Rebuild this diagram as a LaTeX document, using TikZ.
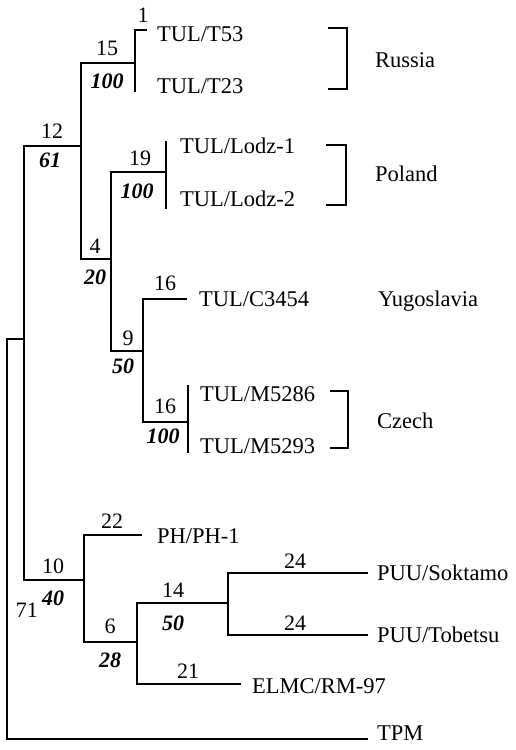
\documentclass[tikz,border=0pt]{standalone}
\usepackage{fontspec}
\setmainfont{Liberation Serif}
\begin{document}
\begin{tikzpicture}[x=1pt,y=-1pt,
  br/.style={line width=1.4pt,line cap=rect},
  lab/.style={anchor=base west,inner sep=0pt,font=\fontsize{22.5}{26}\selectfont},
  num/.style={anchor=base,inner sep=0pt,font=\fontsize{22}{26}\selectfont},
  boot/.style={anchor=base,inner sep=0pt,font=\fontsize{22}{26}\selectfont\bfseries\itshape}]
\useasboundingbox (0,0) rectangle (515,750);
% junction coordinates
\coordinate (R) at (7,339);
\coordinate (A) at (24,339); \coordinate (A1) at (24,146); \coordinate (A2) at (24,580);
\coordinate (B) at (81,146); \coordinate (B1) at (81,63); \coordinate (B2) at (81,259);
\coordinate (Ru) at (135,63); \coordinate (Ru1) at (135,30); \coordinate (Ru2) at (135,91);
\coordinate (t53e) at (146,30);
\coordinate (C) at (111,259); \coordinate (C1) at (111,172); \coordinate (C2) at (111,351);
\coordinate (Po) at (166,172); \coordinate (Po1) at (166,142); \coordinate (Po2) at (166,208);
\coordinate (D) at (143,351); \coordinate (D1) at (143,299); \coordinate (D2) at (143,422);
\coordinate (yuE) at (186,299);
\coordinate (Cz) at (188,422); \coordinate (Cz1) at (188,386); \coordinate (Cz2) at (188,452);
\coordinate (E) at (84,580); \coordinate (E1) at (84,535); \coordinate (E2) at (84,642);
\coordinate (phE) at (141,535);
\coordinate (F) at (137,642); \coordinate (F1) at (137,603); \coordinate (F2) at (137,684);
\coordinate (G) at (228,603); \coordinate (G1) at (228,573); \coordinate (G2) at (228,635);
\coordinate (sokE) at (367,573); \coordinate (tobE) at (367,635);
\coordinate (elmE) at (240,684); \coordinate (tpmE) at (367,739);
% branches
\draw[br] (R) -- (A); \draw[br] (A1) -- (A2);
\draw[br] (R) |- (tpmE);
\draw[br] (A1) -- (B); \draw[br] (B1) -- (B2);
\draw[br] (B1) -- (Ru); \draw[br] (Ru1) -- (Ru2); \draw[br] (Ru1) -- (t53e);
\draw[br] (B2) -- (C); \draw[br] (C1) -- (C2);
\draw[br] (C1) -- (Po); \draw[br] (Po1) -- (Po2);
\draw[br] (C2) -- (D); \draw[br] (D1) -- (D2);
\draw[br] (D1) -- (yuE);
\draw[br] (D2) -- (Cz); \draw[br] (Cz1) -- (Cz2);
\draw[br] (A2) -- (E); \draw[br] (E1) -- (E2);
\draw[br] (E1) -- (phE);
\draw[br] (E2) -- (F); \draw[br] (F1) -- (F2);
\draw[br] (F1) -- (G); \draw[br] (G1) -- (G2);
\draw[br] (G1) -- (sokE); \draw[br] (G2) -- (tobE);
\draw[br] (F2) -- (elmE);
% brackets
\draw[br] (329,28) -- (347,28) -- (347,89) -- (329,89);
\draw[br] (327,145) -- (346,145) -- (346,205) -- (327,205);
\draw[br] (331,391) -- (348,391) -- (348,448) -- (331,448);
% taxon labels
\node[lab] (t53) at (157,41) {TUL/T53};
\node[lab] (t23) at (157,93) {TUL/T23};
\node[lab] (lodz1) at (180,153) {TUL/Lodz-1};
\node[lab] (lodz2) at (180,206) {TUL/Lodz-2};
\node[lab] (c3454) at (199,306) {TUL/C3454};
\node[lab] (m5286) at (200,401) {TUL/M5286};
\node[lab] (m5293) at (200,453) {TUL/M5293};
\node[lab] (ph1) at (157,543) {PH/PH-1};
\node[lab] (sok) at (377,580) {PUU/Soktamo};
\node[lab] (tob) at (377,642) {PUU/Tobetsu};
\node[lab] (elmc) at (252,693) {ELMC/RM-97};
\node[lab] (tpm) at (377,740) {TPM};
\node[lab] (russia) at (375,67) {Russia};
\node[lab] (poland) at (375,181) {Poland};
\node[lab] (yugo) at (378,306) {Yugoslavia};
\node[lab] (czech) at (377,428) {Czech};
% branch lengths
\node[num] (n1) at (143,22) {1};
\node[num] (n15) at (107,55) {15};
\node[num] (n12) at (52,138) {12};
\node[num] (n19) at (140,165) {19};
\node[num] (n4) at (95,253) {4};
\node[num] (n16a) at (165,290) {16};
\node[num] (n9) at (128,345) {9};
\node[num] (n16b) at (165,413) {16};
\node[num] (n22) at (112,528) {22};
\node[num] (n10) at (53,573) {10};
\node[num] (n71) at (27,617) {71};
\node[num] (n14) at (173,597) {14};
\node[num] (n6) at (110,633) {6};
\node[num] (n21) at (188,678) {21};
\node[num] (n24a) at (295,568) {24};
\node[num] (n24b) at (295,630) {24};
% bootstrap values
\node[boot] (b100a) at (107,88) {100};
\node[boot] (b61) at (50,167) {61};
\node[boot] (b100b) at (137,198) {100};
\node[boot] (b20) at (95,284) {20};
\node[boot] (b50a) at (123,373) {50};
\node[boot] (b100c) at (163,443) {100};
\node[boot] (b40) at (53,605) {40};
\node[boot] (b50b) at (173,630) {50};
\node[boot] (b28) at (110,667) {28};
\end{tikzpicture}
\end{document}
